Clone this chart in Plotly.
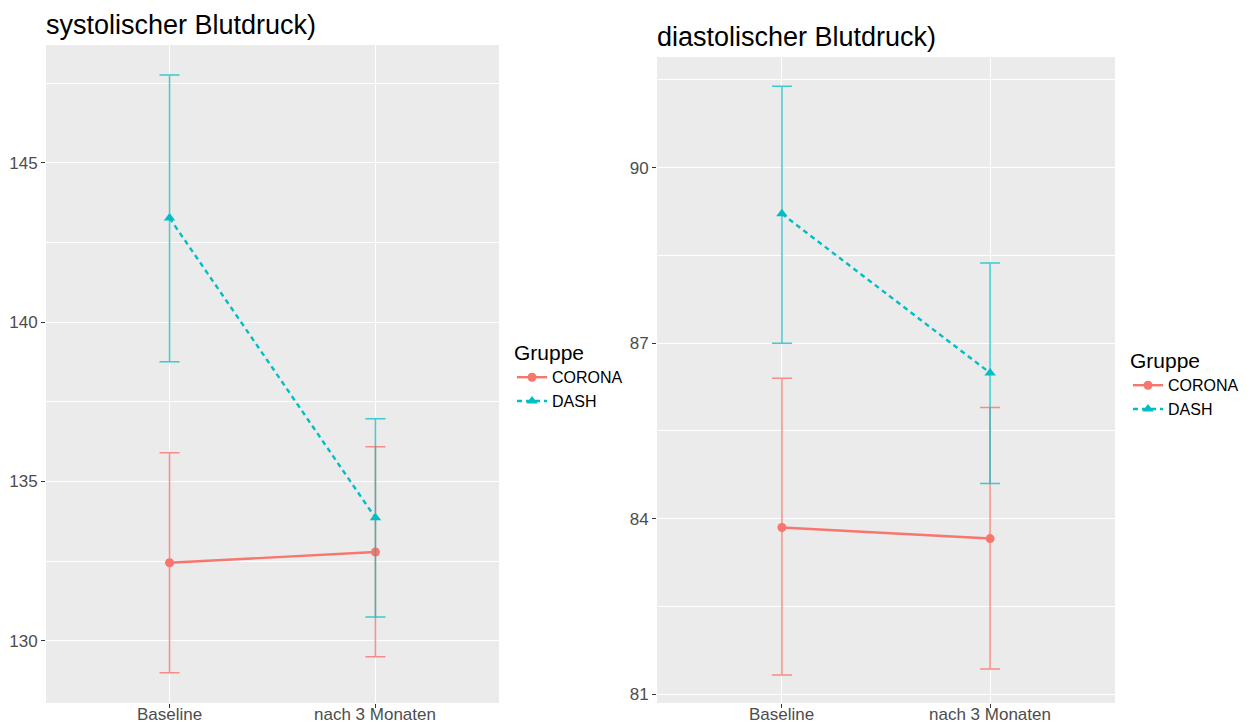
import plotly.graph_objects as go

# ---------------- data ----------------
time_points = ["Baseline", "nach 3 Monaten"]
groups = ["CORONA", "DASH"]

# systolic blood pressure (left panel)
sys_corona_mean = [132.45, 132.79]
sys_corona_low = [129.00, 129.50]
sys_corona_high = [135.90, 136.09]
sys_dash_mean = [143.27, 133.86]
sys_dash_low = [138.76, 130.75]
sys_dash_high = [147.76, 136.97]

# diastolic blood pressure (right panel)
dia_corona_mean = [83.85, 83.66]
dia_corona_low = [81.33, 81.43]
dia_corona_high = [86.40, 85.90]
dia_dash_mean = [89.21, 86.49]
dia_dash_low = [87.00, 84.60]
dia_dash_high = [91.39, 88.37]

titles = ["systolischer Blutdruck)", "diastolischer Blutdruck)"]
legend_title = "Gruppe"

# ---------------- style ----------------
W, H = 1253, 724
FONT = "Liberation Sans, Arial, Helvetica, sans-serif"
COL = {"CORONA": "#F8766D", "DASH": "#00BFC4"}
ERRCOL = {"CORONA": "rgba(248,118,109,0.8)", "DASH": "rgba(0,191,196,0.75)"}
SYM = {"CORONA": "circle", "DASH": "triangle-up"}
DASH = {"CORONA": "solid", "DASH": "5px,4px"}


def px_dom_x(a, b):
    return [a / W, b / W]


def px_dom_y(top, bottom):
    return [(H - bottom) / H, (H - top) / H]


fig = go.Figure()

panels = [
    dict(xa="x", ya="y", legend="legend",
         data={"CORONA": (sys_corona_mean, sys_corona_low, sys_corona_high),
               "DASH": (sys_dash_mean, sys_dash_low, sys_dash_high)}),
    dict(xa="x2", ya="y2", legend="legend2",
         data={"CORONA": (dia_corona_mean, dia_corona_low, dia_corona_high),
               "DASH": (dia_dash_mean, dia_dash_low, dia_dash_high)}),
]

for p in panels:
    for g in groups:
        mean, low, high = p["data"][g]
        fig.add_trace(go.Scatter(
            x=time_points, y=mean, name=g, mode="lines+markers",
            xaxis=p["xa"], yaxis=p["ya"], legend=p["legend"],
            line=dict(color=COL[g], width=2.4, dash=DASH[g]),
            marker=dict(color=COL[g], symbol=SYM[g], size=9 if g == "CORONA" else 10),
            error_y=dict(type="data", symmetric=False,
                         array=[h - m for h, m in zip(high, mean)],
                         arrayminus=[m - l for m, l in zip(mean, low)],
                         color=ERRCOL[g], thickness=1.5, width=10),
        ))

axis_common = dict(
    showline=False, zeroline=False, automargin=False,
    ticks="outside", ticklen=4, tickwidth=1, tickcolor="#333333",
    tickfont=dict(family=FONT, size=17, color="#4D4D4D"),
    gridcolor="#FFFFFF", gridwidth=1.3,
)

# x tick labels as annotations placed on the category scale (keeps them inside the page)
tick_annots = []
for xa in ["x", "x2"]:
    for cat in time_points:
        tick_annots.append(dict(
            text=cat, xref=xa, yref="paper", x=cat, y=(H - 714) / H,
            xanchor="center", yanchor="middle", showarrow=False,
            font=dict(family=FONT, size=17, color="#4D4D4D")))

fig.update_layout(
    width=W, height=H,
    margin=dict(l=0, r=0, t=0, b=0, autoexpand=False),
    paper_bgcolor="white", plot_bgcolor="#EBEBEB",
    font=dict(family=FONT),
    xaxis=dict(axis_common, domain=px_dom_x(46, 499), anchor="y",
               type="category", range=[-0.6, 1.6], showticklabels=False),
    yaxis=dict(axis_common, domain=px_dom_y(45, 703), anchor="x",
               range=[128.05, 148.70], tickvals=[130, 135, 140, 145],
               minor=dict(tickvals=[127.5, 132.5, 137.5, 142.5, 147.5],
                          showgrid=True, gridcolor="#FFFFFF", gridwidth=0.6,
                          ticks="")),
    xaxis2=dict(axis_common, domain=px_dom_x(657, 1115), anchor="y2",
                type="category", range=[-0.6, 1.6], showticklabels=False),
    yaxis2=dict(axis_common, domain=px_dom_y(57, 703), anchor="x2",
                range=[80.85, 91.89], tickvals=[81, 84, 87, 90],
                minor=dict(tickvals=[82.5, 85.5, 88.5, 91.5],
                           showgrid=True, gridcolor="#FFFFFF", gridwidth=0.6,
                           ticks="")),
    legend=dict(x=512 / W, y=(H - 333) / H, xanchor="left", yanchor="top",
                bgcolor="rgba(0,0,0,0)",
                title=dict(text=legend_title, font=dict(family=FONT, size=21, color="#000")),
                font=dict(family=FONT, size=16, color="#000"), itemwidth=30),
    legend2=dict(x=1128 / W, y=(H - 341) / H, xanchor="left", yanchor="top",
                 bgcolor="rgba(0,0,0,0)",
                 title=dict(text=legend_title, font=dict(family=FONT, size=21, color="#000")),
                 font=dict(family=FONT, size=16, color="#000"), itemwidth=30),
    annotations=[
        dict(text=titles[0], xref="paper", yref="paper", x=44 / W, y=(H - 25) / H,
             xanchor="left", yanchor="middle", showarrow=False,
             font=dict(family=FONT, size=27, color="#000")),
        dict(text=titles[1], xref="paper", yref="paper", x=655 / W, y=(H - 37) / H,
             xanchor="left", yanchor="middle", showarrow=False,
             font=dict(family=FONT, size=27, color="#000")),
    ] + tick_annots,
)

fig.write_html(
    "out.html",
    config={"displayModeBar": False},
    post_script="document.body.style.margin='0';document.body.style.overflow='hidden';",
)
